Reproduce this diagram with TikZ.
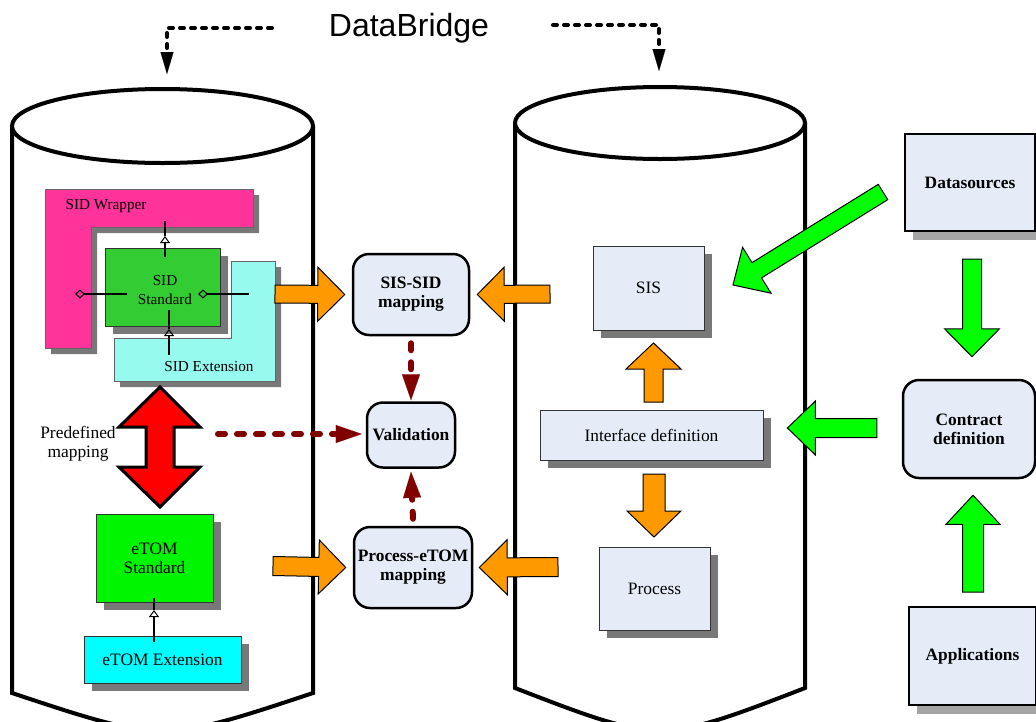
\documentclass[tikz,border=0pt]{standalone}
\usepackage{fontspec}
\setmainfont{Liberation Serif}
\newfontfamily\dbsans{Liberation Sans}
\usetikzlibrary{arrows.meta,calc,shadows}

\definecolor{boxfill}{RGB}{230,236,247}
\definecolor{sidpink}{RGB}{255,51,153}
\definecolor{sidgreen}{RGB}{51,204,51}
\definecolor{sidcyan}{RGB}{150,250,238}
\definecolor{etomgreen}{RGB}{0,245,0}
\definecolor{etomcyan}{RGB}{0,255,255}
\definecolor{arrorange}{RGB}{255,153,0}
\definecolor{arrgreen}{RGB}{0,255,0}
\definecolor{darkred}{RGB}{128,0,0}
\definecolor{shadowgray}{RGB}{120,120,120}
\definecolor{lightshadow}{RGB}{165,165,165}

\newcommand\blockarrow[6]{%
  \coordinate (bahead) at ($(#2)!#5!(#1)$);
  \filldraw[fill=#6, draw=black, line width=1pt, line join=miter]
    ($(#1)!#3!90:(#2)$) -- ($(bahead)!#3!90:(#2)$) -- ($(bahead)!#4!90:(#2)$) -- (#2)
    -- ($(bahead)!#4!-90:(#2)$) -- ($(bahead)!#3!-90:(#2)$) -- ($(#1)!#3!-90:(#2)$) -- cycle;}

\tikzset{
  txt/.style={font=\fontsize{17.4}{19}\selectfont, align=center},
  smalltxt/.style={font=\fontsize{15.2}{19}\selectfont, align=center},
  cyl/.style={line width=4pt, fill=white},
  shbox/.style={draw=black!80, line width=0.8pt, inner sep=0pt, align=center,
    drop shadow={shadow xshift=8pt, shadow yshift=-8pt, fill=shadowgray, opacity=1}},
  bigbox/.style={draw=black, line width=2pt, inner sep=0pt, fill=boxfill, align=center,
    font=\bfseries\fontsize{17.4}{19}\selectfont,
    drop shadow={shadow xshift=8pt, shadow yshift=-9pt, fill=lightshadow, opacity=1}},
  mapbox/.style={draw=black, line width=2.5pt, rounded corners=16pt, fill=boxfill,
    inner sep=0pt, align=center, font=\bfseries\fontsize{17.4}{19}\selectfont},
  umlline/.style={line width=1.2pt},
  opentri/.style={-{Triangle[open, length=7pt, width=10pt, line width=1pt]}},
  opendia/.style={-{Diamond[open, length=10pt, width=9pt, line width=1.1pt]}},
  dbarrow/.style={line width=4pt, dash pattern=on 4pt off 7pt, line cap=round,
    -{Triangle[length=22pt, width=13pt, line width=0.1pt]}},
  redarrow/.style={draw=darkred, line width=6pt, dash pattern=on 7pt off 12pt, line cap=round,
    -{Triangle[length=26pt, width=18pt, line width=0.1pt, fill=darkred]}},
}

\begin{document}
\begin{tikzpicture}[x=1pt,y=-1pt]
\useasboundingbox[fill=white] (0,0) rectangle (1036,721);

% ---- cylinders ----
\filldraw[cyl] (12,126) -- (12,693) .. controls (162.5,743) .. (313,693) -- (313,126);
\draw[cyl] (162.5,126) ellipse [x radius=150.5, y radius=37];
\filldraw[cyl] (515,123) -- (515,688) .. controls (660,744) .. (805,688) -- (805,123);
\draw[cyl] (660,123) ellipse [x radius=145, y radius=36];

% ---- DataBridge ----
\node[font=\dbsans\fontsize{32}{36}\selectfont, anchor=base] (db) at (409,36) {DataBridge};
\coordinate (dbls) at (272,28);
\coordinate (dblt) at (167,74);
\coordinate (dbrs) at (553,25);
\coordinate (dbrt) at (659,71);
\draw[dbarrow] (dbls) -| (dblt);
\draw[dbarrow] (dbrs) -| (dbrt);

% ---- SID wrapper (L shape) ----
\fill[shadowgray, shift={(6,6)}] (45,189) -- (253,189) -- (253,227) -- (91,227) -- (91,348) -- (45,348) -- cycle;
\filldraw[fill=sidpink, draw=black!60, line width=0.6pt] (45,189) -- (253,189) -- (253,227) -- (91,227) -- (91,348) -- (45,348) -- cycle;
\node[smalltxt] (sidw) at (106,206) {SID Wrapper};

% ---- SID extension (L shape) ----
\fill[shadowgray, shift={(6,6)}] (231,261) -- (275,261) -- (275,381) -- (114,381) -- (114,338) -- (231,338) -- cycle;
\filldraw[fill=sidcyan, draw=black!60, line width=0.6pt] (231,261) -- (275,261) -- (275,381) -- (114,381) -- (114,338) -- (231,338) -- cycle;
\node[smalltxt] (side) at (209,367) {SID Extension};

% ---- SID standard ----
\node[shbox, fill=sidgreen, minimum width=115pt, minimum height=78pt] (sids) at (162.5,287) {};
\node[smalltxt] (sidst) at (165,290) {SID\\Standard};

% UML connectors
\coordinate (u1a) at (165,257);
\coordinate (u1t) at (165,236);
\coordinate (u1b) at (165,221);
\draw[umlline, opentri] (u1a) -- (u1t);
\draw[umlline] (u1t) -- (u1b);
\coordinate (u2a) at (127,294);
\coordinate (u2t) at (75,294);
\draw[umlline, opendia] (u2a) -- (u2t);
\coordinate (u3a) at (249,294);
\coordinate (u3t) at (198,294);
\draw[umlline, opendia] (u3a) -- (u3t);
\coordinate (u4a) at (169,355);
\coordinate (u4t) at (169,329);
\coordinate (u4b) at (169,310);
\draw[umlline, opentri] (u4a) -- (u4t);
\draw[umlline] (u4t) -- (u4b);

% ---- predefined mapping ----
\filldraw[fill=red, draw=black, line width=3pt, line join=miter]
  (160,387) -- (200,427) -- (174,427) -- (174,467) -- (200,467) -- (160,507)
  -- (119,467) -- (146,467) -- (146,427) -- (119,427) -- cycle;
\node[txt] (pm) at (78,444) {Predefined\\mapping};

% ---- eTOM ----
\node[shbox, fill=etomgreen, txt, minimum width=117pt, minimum height=88pt] (etoms) at (154.5,558) {eTOM\\Standard};
\node[shbox, fill=etomcyan, txt, minimum width=157pt, minimum height=47pt] (etome) at (162.5,659.5) {eTOM Extension};
\coordinate (u5a) at (154,642);
\coordinate (u5t) at (154,610);
\coordinate (u5b) at (154,598);
\draw[umlline, opentri] (u5a) -- (u5t);
\draw[umlline] (u5t) -- (u5b);

% ---- mapping boxes ----
\node[mapbox, minimum width=116pt, minimum height=81pt] (sissid) at (411,294.5) {SIS-SID\\mapping};
\node[mapbox, minimum width=88pt, minimum height=65pt] (valid) at (411,435) {Validation};
\node[mapbox, minimum width=118pt, minimum height=81pt] (pem) at (413,567.5) {Process-eTOM\\mapping};

\coordinate (vh) at (218,434);
\draw[redarrow] ($(sissid.south)+(0,7)$) -- ($(valid.north)+(0,-1)$);
\draw[redarrow] (vh) -- ($(valid.west)+(-4,-1)$);
\draw[redarrow] ($(pem.north)+(0,-7)$) -- ($(valid.south)+(0,3)$);

% ---- right cylinder boxes ----
\node[shbox, fill=boxfill, txt, minimum width=111pt, minimum height=84pt] (sis) at (648.5,288) {SIS};
\node[shbox, fill=boxfill, txt, minimum width=223pt, minimum height=50pt] (ifd) at (651.5,435) {Interface definition};
\node[shbox, fill=boxfill, txt, minimum width=111pt, minimum height=83pt] (proc) at (654.5,588.5) {Process};

% ---- right column ----
\node[bigbox, minimum width=130pt, minimum height=97pt] (ds) at (970,182.5) {Datasources};
\node[mapbox, minimum width=132pt, minimum height=98pt] (cd) at (969,429) {Contract\\definition};
\node[bigbox, minimum width=127pt, minimum height=98pt] (app) at (972.5,656) {Applications};

% ---- orange block arrows ----
\coordinate (a1s) at (275,294);   \coordinate (a1e) at ($(sissid.west)+(-7,0)$);
\coordinate (a2s) at (550,294);   \coordinate (a2e) at ($(sissid.east)+(7,0)$);
\coordinate (a3s) at (273,566);   \coordinate (a3e) at ($(pem.west)+(-7,0)$);
\coordinate (a4s) at (558,567);   \coordinate (a4e) at ($(pem.east)+(6,0)$);
\coordinate (a5s) at (653.5,402); \coordinate (a5e) at (653.5,343);
\coordinate (a6s) at (654,474);   \coordinate (a6e) at (654,537);
\blockarrow{a1s}{a1e}{9pt}{27pt}{27pt}{arrorange}
\blockarrow{a2s}{a2e}{9pt}{27pt}{27pt}{arrorange}
\blockarrow{a3s}{a3e}{9.5pt}{27pt}{27pt}{arrorange}
\blockarrow{a4s}{a4e}{9.5pt}{27.5pt}{28pt}{arrorange}
\blockarrow{a5s}{a5e}{9.5pt}{27.5pt}{26pt}{arrorange}
\blockarrow{a6s}{a6e}{11pt}{27pt}{26pt}{arrorange}

% ---- green block arrows ----
\coordinate (g1s) at (883,192); \coordinate (g1e) at (733,285);
\coordinate (g2s) at ($(ds.south)+(2,27)$); \coordinate (g2e) at ($(cd.north)+(3,-22)$);
\coordinate (g3s) at ($(app.north)+(0.5,-14)$); \coordinate (g3e) at ($(cd.south)+(4,16)$);
\coordinate (g4s) at ($(cd.west)+(-25,-1)$); \coordinate (g4e) at ($(ifd.east)+(24,-7)$);
\blockarrow{g1s}{g1e}{9pt}{27pt}{28pt}{arrgreen}
\blockarrow{g2s}{g2e}{9.5pt}{27.5pt}{28pt}{arrgreen}
\blockarrow{g3s}{g3e}{10.5pt}{27pt}{29pt}{arrgreen}
\blockarrow{g4s}{g4e}{9.5pt}{27pt}{28pt}{arrgreen}
\end{tikzpicture}
\end{document}
